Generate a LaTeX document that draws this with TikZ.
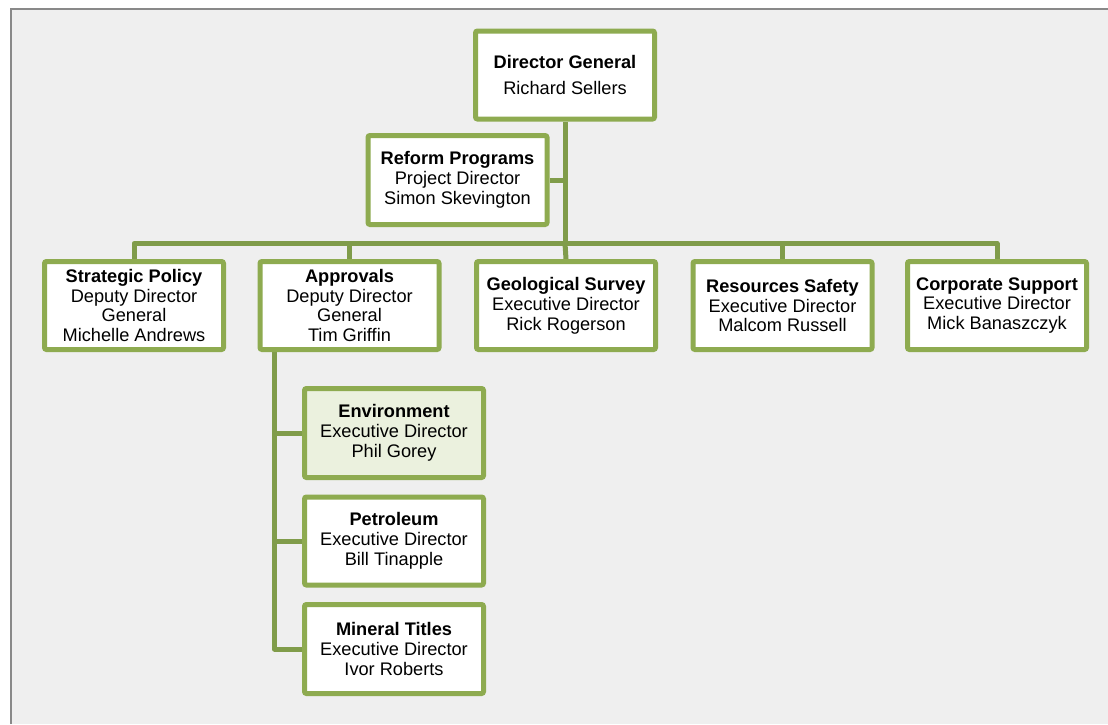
\documentclass[tikz,border=0pt]{standalone}
\usepackage{fontspec}
\setmainfont{Liberation Sans}
\usetikzlibrary{backgrounds}
\definecolor{bgc}{HTML}{EFEFEF}
\definecolor{framec}{HTML}{898989}
\definecolor{boxc}{HTML}{8EAB50}
\definecolor{linec}{HTML}{809C4A}
\definecolor{envc}{HTML}{EBF1DE}
\tikzset{
  orgbox/.style={draw=boxc, line width=5pt, fill=white, rounded corners=2pt,
    minimum width=179pt, minimum height=88pt, inner sep=0pt, align=center,
    font=\fontsize{18.2}{19.8}\selectfont},
  conn/.style={draw=linec, line width=5pt, line join=round}
}
\begin{document}
\begin{tikzpicture}[x=1pt,y=-1pt]
\useasboundingbox (0,0) rectangle (1108,724);

% nodes
\node[orgbox] (dg) at (565,75) {\textbf{Director General}\\[7pt]Richard Sellers};
\node[orgbox, minimum height=89pt] (ref) at (457.5,180) {\textbf{Reform Programs}\\Project Director\\Simon Skevington};
\node[orgbox] (str) at (134,305.5) {\textbf{Strategic Policy}\\Deputy Director\\General\\Michelle Andrews};
\node[orgbox] (app) at (349.5,305.5) {\textbf{Approvals}\\Deputy Director\\General\\Tim Griffin};
\node[orgbox] (geo) at (566,305.5) {\textbf{Geological Survey}\\Executive Director\\Rick Rogerson};
\node[orgbox] (res) at (782.5,305.5) {\textbf{Resources Safety}\\Executive Director\\Malcom Russell};
\node[orgbox] (cor) at (997,305.5) {\textbf{Corporate Support}\\Executive Director\\Mick Banaszczyk};
\node[orgbox, fill=envc, minimum height=89pt] (env) at (394,433) {\textbf{Environment}\\Executive Director\\Phil Gorey};
\node[orgbox] (pet) at (394,541) {\textbf{Petroleum}\\Executive Director\\Bill Tinapple};
\node[orgbox, minimum height=89pt] (min) at (394,649) {\textbf{Mineral Titles}\\Executive Director\\Ivor Roberts};

\begin{scope}[on background layer]
\fill[bgc] (11,8.5) rectangle (1108,724);
\draw[framec, line width=2pt] (11,724) -- (11,8.5) -- (1108,8.5);
\coordinate (bar) at (565,243.5);
\coordinate (trunk) at (565,180);
\draw[conn] (dg.south) -- (bar);
\draw[conn] (ref.east) -- (trunk);
\draw[conn] (str.north) |- (bar) -| (cor.north);
\draw[conn] (app.north) -- (app.north |- bar);
\draw[conn] (bar) -- (geo.north);
\draw[conn] (res.north) -- (res.north |- bar);
\coordinate (aleft) at ([xshift=17pt]app.south west);
\draw[conn] (aleft) |- (min.west);
\draw[conn] (aleft |- env.west) -- (env.west);
\draw[conn] (aleft |- pet.west) -- (pet.west);
\end{scope}
\end{tikzpicture}
\end{document}
